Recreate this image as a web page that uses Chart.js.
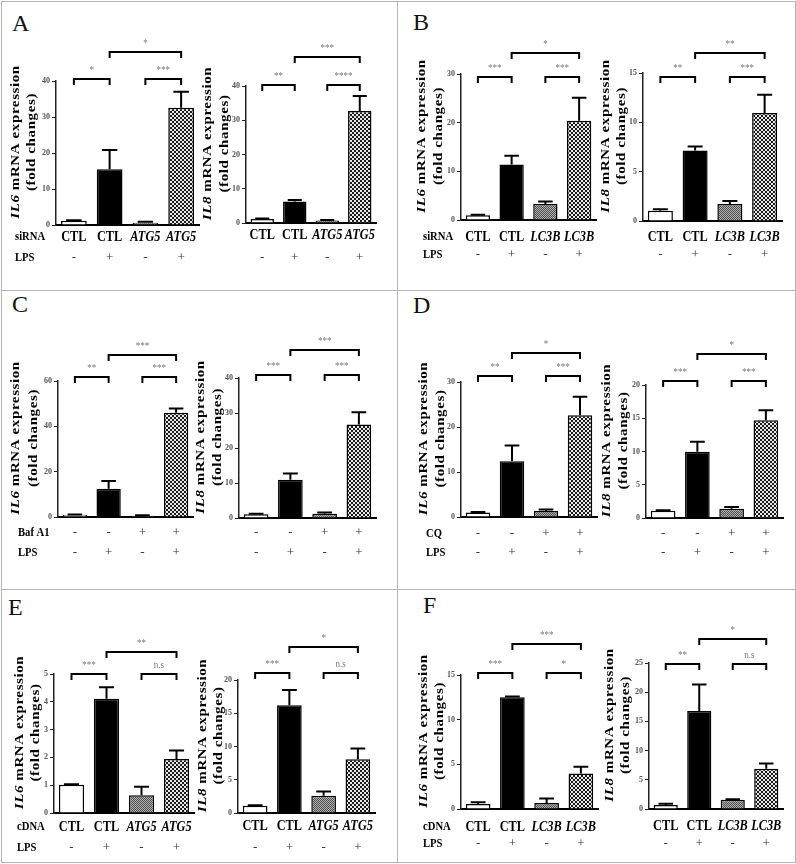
<!DOCTYPE html>
<html>
<head>
<meta charset="utf-8">
<script src="https://cdn.jsdelivr.net/npm/chart.js@4.4.0/dist/chart.umd.min.js"></script>
<style>
  body { margin: 0; background: #fff; }
  #fig { position: relative; width: 796px; height: 864px; background: #fff; overflow: hidden; }
  .rule { position: absolute; background: #b4b4b4; }
  .letter { position: absolute; font-family: "Liberation Serif", serif; font-size: 24px; line-height: 24px; color: #111; }
  canvas { position: absolute; }
</style>
</head>
<body>
<div id="fig"></div>
<script>
// groups shown under the bars
const sirnaATG5 = ["CTL", "CTL", "ATG5", "ATG5"];
const sirnaLC3B = ["CTL", "CTL", "LC3B", "LC3B"];
const drugRow = ["-", "-", "+", "+"];
const lpsRow = ["-", "+", "-", "+"];
const italicGroups = ["ATG5", "LC3B"];

// mean fold change and SEM
const il6A = [1.2, 15.5, 0.65, 32.6];
const il6A_sem = [0.1, 5.3, 0.25, 4.4];
const il8A = [1.2, 6.3, 0.7, 32.7];
const il8A_sem = [0.1, 0.4, 0.2, 4.4];
const sigA6 = ["*", "***", "*"];
const sigA8 = ["**", "****", "***"];

const il6B = [1.0, 11.4, 3.3, 20.4];
const il6B_sem = [0.1, 1.8, 0.5, 4.7];
const il8B = [1.05, 7.15, 1.73, 10.95];
const il8B_sem = [0.15, 0.4, 0.3, 1.85];
const sigB6 = ["***", "***", "*"];
const sigB8 = ["**", "***", "**"];

const il6C = [1.0, 12.5, 0.6, 46.0];
const il6C_sem = [0.1, 3.4, 0.2, 1.9];
const il8C = [1.1, 10.9, 1.2, 26.7];
const il8C_sem = [0.1, 1.8, 0.4, 3.5];
const sigC6 = ["**", "***", "***"];
const sigC8 = ["***", "***", "***"];

const il6D = [1.0, 12.4, 1.33, 22.6];
const il6D_sem = [0.1, 3.5, 0.35, 4.1];
const il8D = [1.1, 9.95, 1.4, 14.7];
const il8D_sem = [0.05, 1.5, 0.25, 1.5];
const sigD6 = ["**", "***", "*"];
const sigD8 = ["***", "***", "*"];

const il6E = [1.02, 4.11, 0.64, 1.94];
const il6E_sem = [0.01, 0.41, 0.3, 0.31];
const il8E = [1.1, 16.2, 2.6, 8.1];
const il8E_sem = [0.05, 2.3, 0.65, 1.6];
const sigE6 = ["***", "n.s", "**"];
const sigE8 = ["***", "n.s", "*"];

const il6F = [0.56, 12.5, 0.67, 3.97];
const il6F_sem = [0.2, 0.1, 0.5, 0.75];
const il8F = [0.69, 16.8, 1.6, 6.9];
const il8F_sem = [0.23, 4.5, 0.05, 0.9];
const sigF6 = ["***", "*", "***"];
const sigF8 = ["**", "n.s", "*"];

// bracket pairs: 1-2, 3-4, 2-4
const pairs = [[0, 1], [2, 3], [1, 3]];

const fig = document.getElementById("fig");

// panel frame
[[1, 1, 795, 1], [1, 862, 795, 1], [1, 1, 1, 862], [795, 1, 1, 862],
 [397, 1, 1, 862], [1, 290, 795, 1], [1, 589, 795, 1]].forEach(r => {
    const d = document.createElement("div");
    d.className = "rule";
    d.style.left = r[0] + "px"; d.style.top = r[1] + "px";
    d.style.width = r[2] + "px"; d.style.height = r[3] + "px";
    fig.appendChild(d);
});

[["A", 12, 11], ["B", 413, 10], ["C", 12, 292], ["D", 413, 293], ["E", 8, 595], ["F", 423, 593]].forEach(l => {
    const d = document.createElement("div");
    d.className = "letter";
    d.textContent = l[0];
    d.style.left = l[1] + "px"; d.style.top = l[2] + "px";
    fig.appendChild(d);
});

// bar fills
function pattern(size, draw) {
    const c = document.createElement("canvas");
    c.width = size; c.height = size;
    const g = c.getContext("2d");
    draw(g);
    return g.createPattern(c, "repeat");
}
const dots = pattern(2, g => {
    g.fillStyle = "#b0b0b0"; g.fillRect(0, 0, 2, 2);
    g.fillStyle = "#505050"; g.fillRect(0, 0, 1, 1); g.fillRect(1, 1, 1, 1);
});
const checks = pattern(4, g => {
    g.fillStyle = "#1a1a1a"; g.fillRect(0, 0, 4, 4);
    g.fillStyle = "#e8e8e8"; g.fillRect(0, 0, 2, 2); g.fillRect(2, 2, 2, 2);
});
const fills = ["#ffffff", "#000000", dots, checks];

const L = 62, T = 60, B = 50, R = 6;

const specs = [
    { gene: "IL6", values: il6A, sem: il6A_sem, sig: sigA6, row1: sirnaATG5, name1: "siRNA", max: 40, step: 10,
      axisX: 56, endX: 199, topPx: 81, zeroPx: 225, rows: [12, 33], labX: -41, titleX: [-40, -24], brackets: [40.6, 40.6, 48.1] },
    { gene: "IL8", values: il8A, sem: il8A_sem, sig: sigA8, row1: sirnaATG5, max: 40, step: 10,
      axisX: 246, endX: 376, topPx: 86, zeroPx: 223, rows: [12, 35], titleX: [-38, -21], brackets: [40.3, 40.3, 48.5] },
    { gene: "IL6", values: il6B, sem: il6B_sem, sig: sigB6, row1: sirnaLC3B, name1: "siRNA", max: 30, step: 10,
      axisX: 461, endX: 596, topPx: 74, zeroPx: 220, rows: [17, 35], labX: -38, titleX: [-39, -22], brackets: [29.4, 29.4, 34.3] },
    { gene: "IL8", values: il8B, sem: il8B_sem, sig: sigB8, row1: sirnaLC3B, max: 15, step: 5,
      axisX: 643, endX: 782, topPx: 73, zeroPx: 221, rows: [16, 34], titleX: [-37, -21], brackets: [14.6, 14.6, 17.0] },
    { gene: "IL6", values: il6C, sem: il6C_sem, sig: sigC6, row1: drugRow, name1: "Baf A1", max: 60, step: 20,
      axisX: 58, endX: 193, topPx: 381, zeroPx: 517, rows: [16, 36], labX: -40, titleX: [-42, -24], brackets: [61.8, 61.8, 71.5] },
    { gene: "IL8", values: il8C, sem: il8C_sem, sig: sigC8, row1: drugRow, max: 40, step: 10,
      axisX: 239, endX: 376, topPx: 378, zeroPx: 518, rows: [15, 35], titleX: [-38, -21], brackets: [40.9, 40.9, 48.0] },
    { gene: "IL6", values: il6D, sem: il6D_sem, sig: sigD6, row1: drugRow, name1: "CQ", max: 30, step: 10,
      axisX: 461, endX: 597, topPx: 382, zeroPx: 517, rows: [17, 36], labX: -35, titleX: [-37, -20], brackets: [31.3, 31.3, 36.4] },
    { gene: "IL8", values: il8D, sem: il8D_sem, sig: sigD8, row1: drugRow, max: 20, step: 5,
      axisX: 646, endX: 783, topPx: 385, zeroPx: 518, rows: [16, 35], titleX: [-39, -22], brackets: [20.6, 20.6, 24.7] },
    { gene: "IL6", values: il6E, sem: il6E_sem, sig: sigE6, row1: sirnaATG5, name1: "cDNA", max: 5, step: 1,
      axisX: 54, endX: 194, topPx: 674, zeroPx: 813, rows: [14, 35], labX: -37, titleX: [-34, -18], brackets: [5.0, 5.0, 5.8] },
    { gene: "IL8", values: il8E, sem: il8E_sem, sig: sigE8, row1: sirnaATG5, max: 20, step: 5,
      axisX: 238, endX: 375, topPx: 680, zeroPx: 813, rows: [13, 35], titleX: [-35, -19], brackets: [21.05, 21.05, 25.0] },
    { gene: "IL6", values: il6F, sem: il6F_sem, sig: sigF6, row1: sirnaLC3B, name1: "cDNA", max: 15, step: 5,
      axisX: 461, endX: 598, topPx: 675, zeroPx: 809, rows: [18, 35], labX: -38, titleX: [-37, -21], brackets: [15.2, 15.2, 18.5] },
    { gene: "IL8", values: il8F, sem: il8F_sem, sig: sigF8, row1: sirnaLC3B, max: 25, step: 5,
      axisX: 649, endX: 783, topPx: 663, zeroPx: 809, rows: [17, 35], titleX: [-39, -23], brackets: [24.8, 24.8, 29.1] }
];

function text(ctx, str, x, y, font, color, align, sx) {
    ctx.save();
    ctx.font = font;
    ctx.fillStyle = color;
    ctx.textAlign = align;
    ctx.textBaseline = "middle";
    ctx.translate(x, y);
    ctx.scale(sx || 1, 1);
    ctx.fillText(str, 0, 0);
    ctx.restore();
}

function annotations(s) {
    return {
        id: "annot",
        afterDatasetsDraw(chart) {
            const ctx = chart.ctx;
            const y = chart.scales.y;
            const bars = chart.getDatasetMeta(0).data;
            const area = chart.chartArea;

            ctx.save();
            ctx.strokeStyle = "#000";
            ctx.lineWidth = 2;
            // upper error bars
            s.values.forEach((v, i) => {
                const bx = bars[i].x, half = bars[i].width * 0.3;
                const y0 = y.getPixelForValue(v), y1 = y.getPixelForValue(v + s.sem[i]);
                ctx.beginPath();
                ctx.moveTo(bx, y0); ctx.lineTo(bx, y1);
                ctx.moveTo(bx - half, y1); ctx.lineTo(bx + half, y1);
                ctx.stroke();
            });
            // significance brackets
            s.brackets.forEach((lvl, k) => {
                const xa = bars[pairs[k][0]].x, xb = bars[pairs[k][1]].x;
                const yy = Math.round(y.getPixelForValue(lvl));
                ctx.beginPath();
                ctx.moveTo(xa, yy + 6); ctx.lineTo(xa, yy); ctx.lineTo(xb, yy); ctx.lineTo(xb, yy + 6);
                ctx.stroke();
                text(ctx, s.sig[k], (xa + xb) / 2, yy - 9, '10px "Liberation Serif"', "#777", "center", 0.9);
            });
            ctx.restore();

            // rows under the axis
            const r1 = area.bottom + s.rows[0], r2 = area.bottom + s.rows[1];
            s.row1.forEach((lab, i) => {
                const bx = bars[i].x;
                if (lab === "-" || lab === "+") {
                    text(ctx, lab, bx, r1, '13px "Liberation Serif"', "#333", "center");
                } else {
                    const it = italicGroups.includes(lab) ? "italic " : "";
                    text(ctx, lab, bx, r1, it + 'bold 14px "Liberation Serif"', "#000", "center", 0.88);
                }
                text(ctx, lpsRow[i], bx, r2, '13px "Liberation Serif"', "#333", "center");
            });
            if (s.name1) {
                const lx = area.left + s.labX;
                text(ctx, s.name1, lx, r1, 'bold 12.5px "Liberation Serif"', "#000", "left", 0.85);
                text(ctx, "LPS", lx, r2, 'bold 12.5px "Liberation Serif"', "#000", "left", 0.85);
            }

            // y title, two rotated lines
            const cy = (area.top + area.bottom) / 2 - 11;
            ctx.save();
            ctx.fillStyle = "#000";
            ctx.textBaseline = "middle";
            ctx.letterSpacing = "0.6px";
            const bold = 'bold 15px "Liberation Serif"', boldIt = 'italic bold 15px "Liberation Serif"';
            ctx.save();
            ctx.translate(area.left + s.titleX[0], cy);
            ctx.rotate(-Math.PI / 2);
            ctx.scale(1, 0.82);
            ctx.font = boldIt;
            const wg = ctx.measureText(s.gene).width;
            ctx.font = bold;
            const rest = " mRNA expression";
            const wr = ctx.measureText(rest).width;
            ctx.textAlign = "left";
            ctx.font = boldIt;
            ctx.fillText(s.gene, -(wg + wr) / 2, 0);
            ctx.font = bold;
            ctx.fillText(rest, -(wg + wr) / 2 + wg, 0);
            ctx.restore();
            ctx.save();
            ctx.translate(area.left + s.titleX[1], cy);
            ctx.rotate(-Math.PI / 2);
            ctx.scale(1, 0.82);
            ctx.font = bold;
            ctx.textAlign = "center";
            ctx.fillText("(fold changes)", 0, 0);
            ctx.restore();
            ctx.restore();
        }
    };
}

specs.forEach(s => {
    const canvas = document.createElement("canvas");
    const w = s.endX - s.axisX + L + R;
    const h = s.zeroPx - s.topPx + T + B;
    canvas.width = w; canvas.height = h;
    canvas.style.width = w + "px"; canvas.style.height = h + "px";
    canvas.style.left = (s.axisX - L) + "px";
    canvas.style.top = (s.topPx - T) + "px";
    fig.appendChild(canvas);

    new Chart(canvas, {
        type: "bar",
        data: {
            labels: s.row1,
            datasets: [{
                data: s.values,
                backgroundColor: fills,
                borderColor: "#000",
                borderWidth: 1.5,
                barPercentage: 0.72,
                categoryPercentage: 1
            }]
        },
        options: {
            responsive: false,
            animation: false,
            devicePixelRatio: 1,
            layout: { padding: { top: T, bottom: B, right: R, left: 0 } },
            plugins: { legend: { display: false }, tooltip: { enabled: false } },
            scales: {
                x: {
                    grid: { display: false },
                    border: { display: true, color: "#000", width: 2 },
                    ticks: { display: false },
                    afterFit: sc => { sc.height = 0; }
                },
                y: {
                    min: 0,
                    max: s.max,
                    ticks: {
                        stepSize: s.step,
                        color: "#555",
                        padding: 2,
                        font: { family: "Liberation Serif", size: 8, weight: "bold" }
                    },
                    grid: { display: true, drawOnChartArea: false, drawTicks: true, tickLength: 4, color: "#222", lineWidth: 1 },
                    border: { display: true, color: "#222", width: 1.5 },
                    afterFit: sc => { sc.width = L; }
                }
            }
        },
        plugins: [annotations(s)]
    });
});
</script>
</body>
</html>
